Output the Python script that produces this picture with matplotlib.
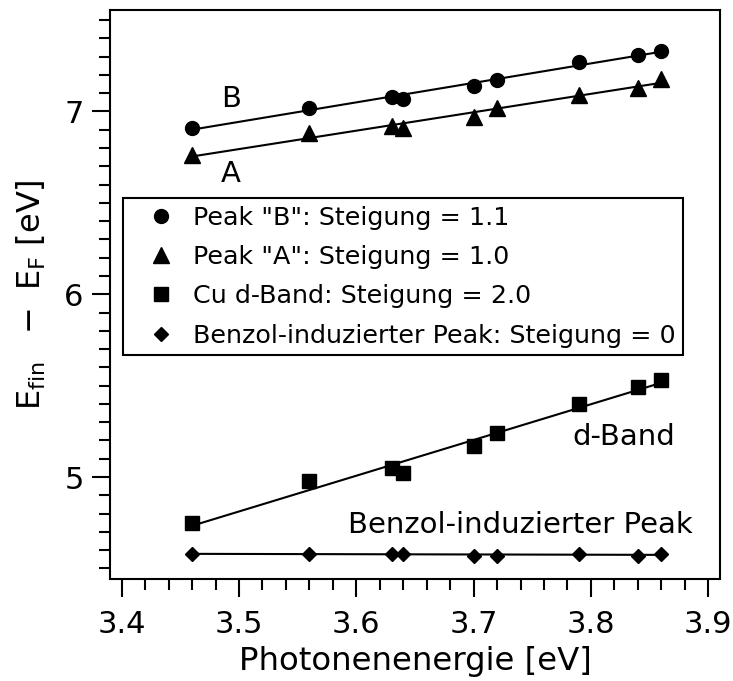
import numpy as np
import matplotlib
matplotlib.use("Agg")
import matplotlib.pyplot as plt
from matplotlib.ticker import MultipleLocator

plt.rcParams['font.family'] = ['DejaVu Sans']
plt.rcParams['mathtext.fontset'] = 'dejavusans'

# photon energies [eV]
energy = [3.46, 3.56, 3.63, 3.64, 3.70, 3.72, 3.79, 3.84, 3.86]
# final state energies [eV]
peak_b = [6.91, 7.02, 7.08, 7.07, 7.14, 7.17, 7.27, 7.31, 7.33]
peak_a = [6.76, 6.88, 6.92, 6.91, 6.97, 7.02, 7.09, 7.13, 7.18]
d_band = [4.75, 4.98, 5.05, 5.02, 5.17, 5.24, 5.40, 5.49, 5.53]
benzol = [4.58, 4.58, 4.58, 4.58, 4.57, 4.57, 4.58, 4.57, 4.58]

labels = ['Peak "B": Steigung = 1.1',
          'Peak "A": Steigung = 1.0',
          'Cu d-Band: Steigung = 2.0',
          'Benzol-induzierter Peak: Steigung = 0']

fig = plt.figure(figsize=(7.33, 6.81), dpi=100)
ax = fig.add_axes([110/733, 1 - 578.5/681, 610/733, 568.5/681])

x = np.array(energy)
xfit = np.array([min(energy), max(energy)])
series = [(peak_b, 'o', 10.0), (peak_a, '^', 11.0), (d_band, 's', 10.2), (benzol, 'D', 7.2)]
handles = []
for (y, m, ms), lab in zip(series, labels):
    k, d = np.polyfit(x, y, 1)
    ax.plot(xfit, k*xfit + d, color='black', lw=1.5)
    h, = ax.plot(x, y, linestyle='none', marker=m, ms=ms, color='black', label=lab)
    handles.append(h)

ax.set_xlim(3.39, 3.91)
ax.set_ylim(4.445, 7.555)
ax.xaxis.set_major_locator(MultipleLocator(0.1))
ax.xaxis.set_minor_locator(MultipleLocator(0.02))
ax.yaxis.set_major_locator(MultipleLocator(1))
ax.yaxis.set_minor_locator(MultipleLocator(0.1))
ax.xaxis.set_major_formatter(plt.FuncFormatter(lambda v, p: f"{v:.1f}"))
ax.yaxis.set_major_formatter(plt.FuncFormatter(lambda v, p: f"{v:.0f}"))
ax.tick_params(which='both', direction='out', width=1.5, top=False, right=False)
ax.tick_params(which='major', length=13, labelsize=22)
ax.tick_params(which='minor', length=8)
ax.tick_params(axis='x', which='major', pad=10)
ax.tick_params(axis='y', which='major', pad=6)
for s in ax.spines.values():
    s.set_linewidth(1.5)

ax.set_xlabel('Photonenenergie [eV]', fontsize=23.3, labelpad=5)
ax.set_ylabel(r'$\mathregular{E_{fin}\ \ -\ E_F\ [eV]}$', fontsize=23, labelpad=12)

ax.text(3.493, 7.027, 'B', fontsize=21, ha='center', va='baseline')
ax.text(3.493, 6.612, 'A', fontsize=21, ha='center', va='baseline')
ax.text(3.828, 5.177, 'd-Band', fontsize=21, ha='center', va='baseline')
ax.text(3.7396, 4.694, 'Benzol-induzierter Peak', fontsize=21, ha='center', va='baseline')

leg = ax.legend(handles=handles, loc='upper left', bbox_to_anchor=(0.0213, 0.669),
                borderaxespad=0, fontsize=18.3, frameon=True, fancybox=False,
                edgecolor='black', framealpha=1, handlelength=2.4, handletextpad=0.06,
                labelspacing=0.6, borderpad=0.3, numpoints=1)
leg.get_frame().set_linewidth(1.5)

fig.savefig('out.png', dpi=100)
